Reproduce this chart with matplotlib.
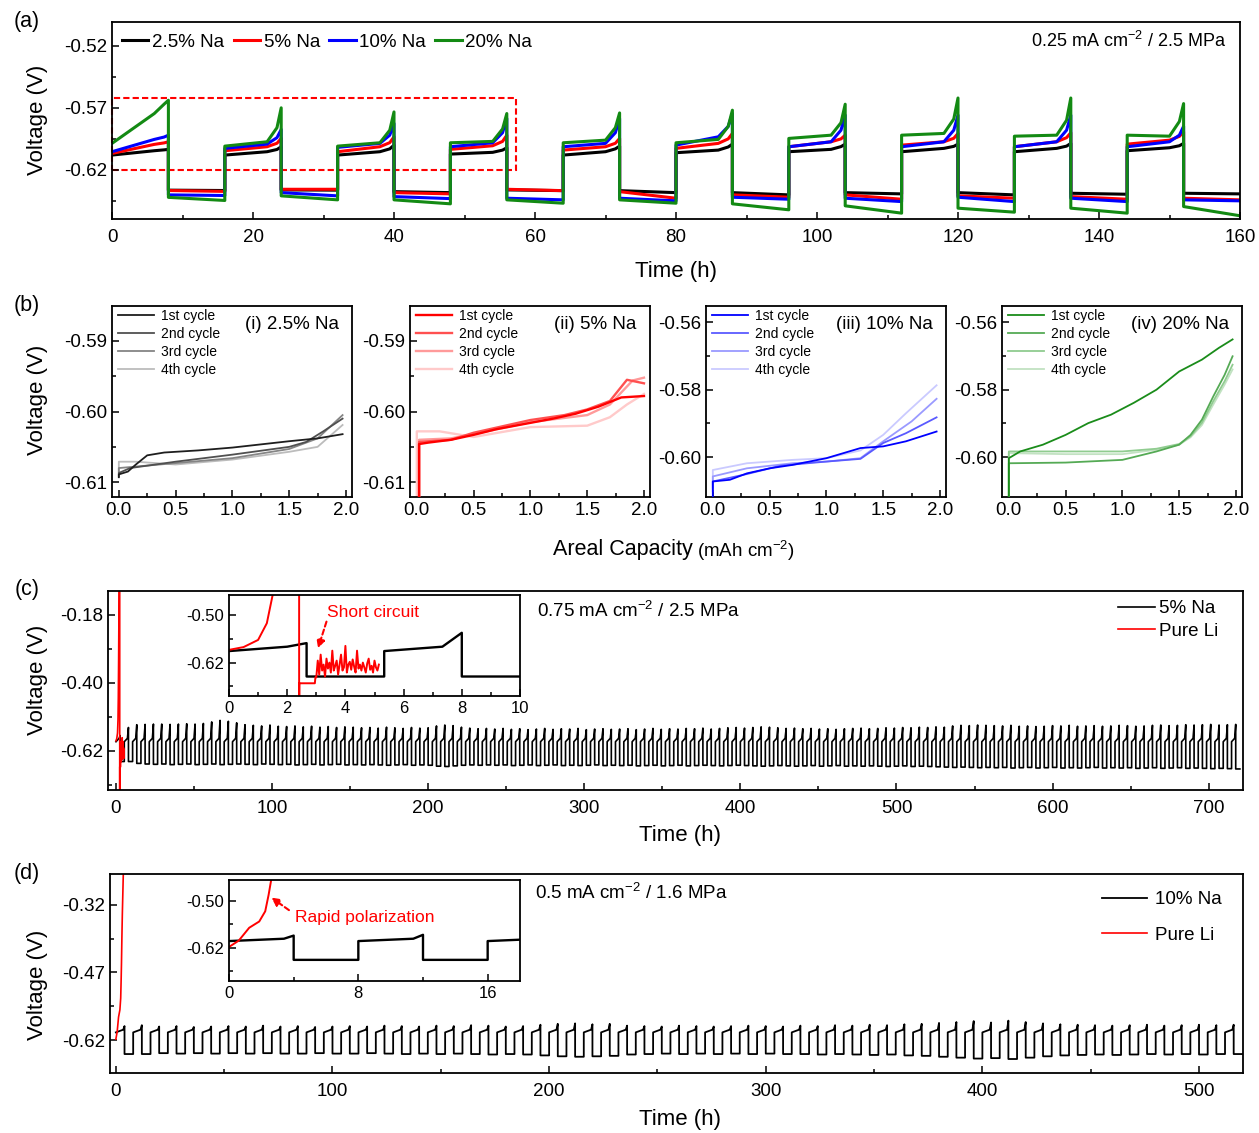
import numpy as np
import matplotlib
matplotlib.use('Agg')
import matplotlib.pyplot as plt
from matplotlib.ticker import MultipleLocator, FixedLocator, FormatStrFormatter
from matplotlib.patches import Rectangle

plt.rcParams['font.family'] = ['Liberation Sans', 'DejaVu Sans']
plt.rcParams['mathtext.default'] = 'regular'
plt.rcParams['axes.unicode_minus'] = False

# ---------------- panel (a): 0.25 mA cm-2, 8 h half cycles ----------------
# upper half cycle: [start, at 6 h, at 7.4 h, end] ; lower half cycle: [start, end]
a_labels = ['2.5% Na', '5% Na', '10% Na', '20% Na']
a_colors = ['black', '#ff0000', '#0000ff', '#138a13']

black_up = [[-0.6080, -0.6045, -0.6038, -0.6034], [-0.6080, -0.6053, -0.6035, -0.6013],
            [-0.6080, -0.6053, -0.6030, -0.6000], [-0.6072, -0.6058, -0.6040, -0.6021],
            [-0.6080, -0.6053, -0.6030, -0.6008], [-0.6061, -0.6040, -0.6015, -0.5992],
            [-0.6053, -0.6034, -0.6012, -0.5992], [-0.6053, -0.6026, -0.6010, -0.5992],
            [-0.6053, -0.6026, -0.6008, -0.5986], [-0.6045, -0.6021, -0.6005, -0.5986]]
red_up = [[-0.6067, -0.5994, -0.5982, -0.5973], [-0.6045, -0.6013, -0.5985, -0.5946],
          [-0.6053, -0.6013, -0.5980, -0.5933], [-0.6034, -0.6005, -0.5970, -0.5920],
          [-0.6040, -0.6013, -0.5985, -0.5946], [-0.6026, -0.5986, -0.5950, -0.5906],
          [-0.6013, -0.5973, -0.5950, -0.5920], [-0.6000, -0.5973, -0.5945, -0.5906],
          [-0.6013, -0.5973, -0.5940, -0.5900], [-0.5992, -0.5960, -0.5930, -0.5893]]
blue_up = [[-0.6053, -0.5954, -0.5935, -0.5920], [-0.6026, -0.5992, -0.5940, -0.5874],
           [-0.6018, -0.5986, -0.5920, -0.5826], [-0.6013, -0.5981, -0.5900, -0.5786],
           [-0.6013, -0.5986, -0.5900, -0.5786], [-0.6000, -0.5933, -0.5850, -0.5746],
           [-0.6013, -0.5973, -0.5880, -0.5759], [-0.6013, -0.5973, -0.5880, -0.5759],
           [-0.6013, -0.5973, -0.5880, -0.5759], [-0.6013, -0.5973, -0.5920, -0.5848]]
green_up = [[-0.5986, -0.5746, -0.5670, -0.5639], [-0.6008, -0.5973, -0.5860, -0.5700],
            [-0.6008, -0.5981, -0.5880, -0.5733], [-0.5981, -0.5970, -0.5870, -0.5746],
            [-0.5981, -0.5960, -0.5860, -0.5741], [-0.5981, -0.5954, -0.5850, -0.5719],
            [-0.5946, -0.5920, -0.5820, -0.5671], [-0.5920, -0.5906, -0.5790, -0.5621],
            [-0.5928, -0.5920, -0.5800, -0.5621], [-0.5920, -0.5928, -0.5810, -0.5666]]

black_low = [[-0.6362, -0.6365], [-0.6360, -0.6362], [-0.6374, -0.6382], [-0.6360, -0.6366],
             [-0.6366, -0.6382], [-0.6382, -0.6400], [-0.6382, -0.6392], [-0.6382, -0.6400],
             [-0.6387, -0.6395], [-0.6387, -0.6392]]
red_low = [[-0.6365, -0.6372], [-0.6355, -0.6355], [-0.6382, -0.6392], [-0.6355, -0.6366],
           [-0.6374, -0.6427], [-0.6400, -0.6419], [-0.6400, -0.6435], [-0.6408, -0.6427],
           [-0.6414, -0.6435], [-0.6427, -0.6440]]
blue_low = [[-0.6400, -0.6405], [-0.6382, -0.6408], [-0.6414, -0.6430], [-0.6427, -0.6440],
            [-0.6427, -0.6448], [-0.6419, -0.6435], [-0.6427, -0.6454], [-0.6419, -0.6454],
            [-0.6427, -0.6454], [-0.6440, -0.6448]]
green_low = [[-0.6420, -0.6445], [-0.6408, -0.6440], [-0.6440, -0.6472], [-0.6440, -0.6467],
             [-0.6440, -0.6467], [-0.6472, -0.6520], [-0.6488, -0.6547], [-0.6507, -0.6539],
             [-0.6507, -0.6547], [-0.6494, -0.6568]]

# ---------------- panel (b): voltage vs areal capacity ----------------
b_titles = ['(i) 2.5% Na', '(ii) 5% Na', '(iii) 10% Na', '(iv) 20% Na']
b_cycles = ['1st cycle', '2nd cycle', '3rd cycle', '4th cycle']
b_colors = [['#1e1e1e', '#505050', '#858585', '#bcbcbc'],
            ['#ff0000', '#ff5050', '#ff9a9a', '#ffcaca'],
            ['#0000ff', '#5a5aff', '#9a9aff', '#cacaff'],
            ['#1a8c1a', '#55aa55', '#90cc90', '#c2e2c2']]

b_i = [([0, 0, 0.08, 0.15, 0.25, 0.4, 0.7, 1.0, 1.5, 1.75, 1.97],
        [-0.6093, -0.6089, -0.6085, -0.6075, -0.6062, -0.6058, -0.6055, -0.6051, -0.6042, -0.6038, -0.6032]),
       ([0, 0, 0.1, 0.5, 1.0, 1.5, 1.65, 1.8, 1.97],
        [-0.6092, -0.6087, -0.6080, -0.6071, -0.6061, -0.6050, -0.6043, -0.6028, -0.6010]),
       ([0, 0, 0.5, 1.0, 1.5, 1.75, 1.97],
        [-0.6085, -0.6080, -0.6073, -0.6066, -0.6053, -0.6038, -0.6005]),
       ([0, 0, 0.15, 0.5, 1.0, 1.5, 1.75, 1.97],
        [-0.6088, -0.6071, -0.6071, -0.6075, -0.6068, -0.6057, -0.6050, -0.6019])]
b_ii = [([0.02, 0.02, 0.1, 0.3, 0.5, 0.7, 1.0, 1.2, 1.4, 1.6, 1.8, 2.0],
         [-0.6125, -0.6046, -0.6044, -0.6040, -0.6033, -0.6025, -0.6016, -0.6010, -0.6003, -0.5993, -0.5980, -0.5978]),
        ([0.02, 0.02, 0.3, 0.5, 1.0, 1.3, 1.5, 1.7, 1.85, 2.0],
         [-0.6125, -0.6043, -0.6040, -0.6030, -0.6012, -0.6005, -0.5997, -0.5985, -0.5955, -0.5960]),
        ([0.02, 0.02, 0.3, 0.5, 1.0, 1.5, 1.7, 1.9, 2.0],
         [-0.6125, -0.6040, -0.6038, -0.6032, -0.6015, -0.6005, -0.5990, -0.5956, -0.5952]),
        ([0.0, 0.0, 0.2, 0.5, 1.0, 1.5, 1.7, 1.85, 2.0],
         [-0.6125, -0.6028, -0.6028, -0.6036, -0.6022, -0.6020, -0.6008, -0.5990, -0.5975])]
b_iii = [([0.0, 0.0, 0.15, 0.3, 0.5, 0.7, 1.0, 1.3, 1.5, 1.7, 1.97],
          [-0.6120, -0.6072, -0.6067, -0.6048, -0.6033, -0.6023, -0.6003, -0.5973, -0.5968, -0.5953, -0.5924]),
         ([0.0, 0.0, 0.3, 0.6, 1.0, 1.3, 1.5, 1.7, 1.97],
          [-0.6100, -0.6072, -0.6050, -0.6025, -0.6013, -0.6005, -0.5958, -0.5929, -0.5882]),
         ([0.0, 0.0, 0.3, 0.7, 1.0, 1.3, 1.5, 1.75, 1.97],
          [-0.6090, -0.6057, -0.6033, -0.6018, -0.6013, -0.6003, -0.5953, -0.5894, -0.5827]),
         ([0.0, 0.0, 0.3, 0.7, 1.0, 1.3, 1.5, 1.7, 1.97],
          [-0.6080, -0.6038, -0.6018, -0.6008, -0.6003, -0.5980, -0.5934, -0.5870, -0.5787])]
iv_x = [0.0, 0.0, 0.5, 1.0, 1.3, 1.5, 1.6, 1.7, 1.8, 1.9, 1.97]
b_iv = [([0.0, 0.0, 0.1, 0.3, 0.5, 0.7, 0.9, 1.1, 1.3, 1.5, 1.7, 1.85, 1.97],
         [-0.6125, -0.6003, -0.5983, -0.5963, -0.5934, -0.5899, -0.5874, -0.5839, -0.5800, -0.5746, -0.5711, -0.5676, -0.5651]),
        (iv_x, [-0.6125, -0.6018, -0.6016, -0.6008, -0.5983, -0.5963, -0.5934, -0.5889, -0.5820, -0.5756, -0.5701]),
        (iv_x, [-0.6125, -0.5983, -0.5983, -0.5983, -0.5975, -0.5961, -0.5938, -0.5898, -0.5834, -0.5775, -0.5726]),
        (iv_x, [-0.6125, -0.5988, -0.5991, -0.5991, -0.5978, -0.5963, -0.5941, -0.5905, -0.5844, -0.5785, -0.5740])]
b_data = [b_i, b_ii, b_iii, b_iv]

# ---------------- panel (c): 0.75 mA cm-2, 5% Na vs pure Li ----------------
c_half = 2.0 / 0.75          # 2 mAh cm-2 per half cycle
c_start, c_knee = -0.591, -0.580
c_peak = [
    -0.571, -0.545, -0.536, -0.535, -0.534, -0.534, -0.535, -0.534, -0.533, -0.534, -0.532, -0.527, -0.522, -0.525, -0.530,
    -0.536, -0.538, -0.540, -0.537, -0.541, -0.542, -0.540, -0.543, -0.541, -0.544, -0.542, -0.545, -0.543, -0.544, -0.546,
    -0.545, -0.547, -0.544, -0.546, -0.548, -0.545, -0.547, -0.546, -0.540, -0.537, -0.539, -0.544, -0.547, -0.549, -0.548,
    -0.550, -0.548, -0.551, -0.549, -0.552, -0.550, -0.548, -0.551, -0.549, -0.550, -0.548, -0.552, -0.550, -0.549, -0.551,
    -0.550, -0.549, -0.552, -0.550, -0.548, -0.551, -0.549, -0.550, -0.548, -0.549, -0.547, -0.550, -0.548, -0.546, -0.545,
    -0.547, -0.545, -0.543, -0.544, -0.546, -0.548, -0.547, -0.549, -0.548, -0.550, -0.549, -0.551, -0.549, -0.548, -0.547,
    -0.549, -0.548, -0.546, -0.547, -0.545, -0.546, -0.544, -0.545, -0.543, -0.544, -0.540, -0.538, -0.539, -0.537, -0.538,
    -0.539, -0.540, -0.538, -0.541, -0.540, -0.542, -0.541, -0.539, -0.540, -0.538, -0.541, -0.540, -0.539, -0.541, -0.540,
    -0.538, -0.539, -0.541, -0.540, -0.538, -0.537, -0.539, -0.538, -0.536, -0.537, -0.536, -0.535, -0.537, -0.536, -0.535]
c_low = [
    -0.655, -0.655, -0.661, -0.663, -0.664, -0.663, -0.665, -0.664, -0.663, -0.665, -0.664, -0.663, -0.665, -0.664, -0.663,
    -0.664, -0.665, -0.663, -0.664, -0.665, -0.664, -0.666, -0.665, -0.664, -0.666, -0.665, -0.664, -0.666, -0.665, -0.666,
    -0.665, -0.666, -0.667, -0.666, -0.665, -0.667, -0.666, -0.667, -0.670, -0.671, -0.669, -0.667, -0.666, -0.667, -0.666,
    -0.667, -0.666, -0.668, -0.667, -0.666, -0.668, -0.667, -0.666, -0.668, -0.667, -0.668, -0.667, -0.666, -0.668, -0.667,
    -0.668, -0.667, -0.669, -0.668, -0.667, -0.669, -0.668, -0.667, -0.669, -0.668, -0.667, -0.668, -0.669, -0.668, -0.667,
    -0.668, -0.669, -0.670, -0.669, -0.668, -0.669, -0.670, -0.669, -0.668, -0.670, -0.669, -0.668, -0.670, -0.669, -0.670,
    -0.669, -0.670, -0.671, -0.670, -0.669, -0.671, -0.670, -0.671, -0.672, -0.673, -0.674, -0.673, -0.674, -0.675, -0.674,
    -0.675, -0.674, -0.676, -0.675, -0.674, -0.676, -0.675, -0.674, -0.676, -0.675, -0.676, -0.675, -0.674, -0.676, -0.675,
    -0.676, -0.675, -0.677, -0.676, -0.675, -0.677, -0.676, -0.675, -0.677, -0.676, -0.677, -0.678, -0.677, -0.678, -0.679]
c_li_t = [0.0, 0.5, 1.0, 1.3, 1.5, 1.7, 1.9, 2.0, 2.41, 2.41, 2.42, 2.95, 2.97]
c_li_v = [-0.588, -0.581, -0.563, -0.521, -0.450, -0.330, -0.180, -0.050, -0.050, -0.800, -0.672, -0.672, -0.657]
c_li_noise = [-0.657, -0.615, -0.650, -0.600, -0.640, -0.625, -0.655, -0.610, -0.635, -0.620, -0.645,
              -0.590, -0.640, -0.628, -0.615, -0.650, -0.625, -0.600, -0.640, -0.632, -0.578, -0.645,
              -0.625, -0.618, -0.638, -0.612, -0.630, -0.645, -0.590, -0.635, -0.625, -0.640, -0.620,
              -0.632, -0.645, -0.622, -0.610, -0.638, -0.628, -0.645, -0.615, -0.632, -0.640, -0.625]

# ---------------- panel (d): 0.5 mA cm-2, 10% Na vs pure Li ----------------
d_half = 2.0 / 0.5
d_start, d_knee = -0.603, -0.597
d_peak = [
    -0.589, -0.587, -0.590, -0.589, -0.591, -0.590, -0.589, -0.590, -0.588, -0.590, -0.589, -0.591, -0.590,
    -0.589, -0.590, -0.588, -0.589, -0.590, -0.588, -0.589, -0.587, -0.588, -0.590, -0.589, -0.586, -0.584,
    -0.583, -0.585, -0.584, -0.588, -0.589, -0.590, -0.588, -0.589, -0.590, -0.589, -0.588, -0.589, -0.590,
    -0.588, -0.589, -0.587, -0.588, -0.586, -0.587, -0.585, -0.584, -0.582, -0.580, -0.578, -0.581, -0.577,
    -0.580, -0.583, -0.585, -0.586, -0.587, -0.588, -0.587, -0.586, -0.588, -0.587, -0.586, -0.587, -0.586]
d_low = [
    -0.651, -0.651, -0.649, -0.650, -0.649, -0.650, -0.649, -0.650, -0.649, -0.650, -0.650, -0.649, -0.650,
    -0.650, -0.649, -0.650, -0.651, -0.650, -0.651, -0.650, -0.651, -0.652, -0.651, -0.652, -0.654, -0.656,
    -0.657, -0.656, -0.655, -0.652, -0.651, -0.650, -0.651, -0.650, -0.651, -0.650, -0.651, -0.650, -0.651,
    -0.651, -0.652, -0.651, -0.652, -0.653, -0.652, -0.654, -0.655, -0.657, -0.659, -0.661, -0.660, -0.662,
    -0.659, -0.656, -0.654, -0.653, -0.652, -0.653, -0.652, -0.651, -0.652, -0.651, -0.652, -0.651, -0.651]
d_li_t = [0.0, 0.6, 1.25, 1.87, 2.24, 2.45, 2.6, 2.8, 3.0, 3.5]
d_li_v = [-0.618, -0.602, -0.569, -0.553, -0.527, -0.485, -0.449, -0.390, -0.340, -0.240]


W, H = 1259, 1133
fig = plt.figure(figsize=(W / 100, H / 100), dpi=100)


def box(l, t, r, b):
    return [l / W, 1 - b / H, (r - l) / W, (b - t) / H]


def style(ax, size=13.5):
    ax.tick_params(which='both', direction='in', top=False, right=False,
                   labelsize=size, width=1.1)
    ax.tick_params(which='major', length=5)
    ax.tick_params(which='minor', length=3)
    for s in ax.spines.values():
        s.set_linewidth(1.3)


def cycles(half, start, knee, peaks, lows, frac):
    t, v = [], []
    for k in range(len(peaks)):
        t0 = 2 * half * k
        t += [t0, t0 + frac * half, t0 + half, t0 + half, t0 + 2 * half]
        v += [start, knee, peaks[k], lows[k], lows[k]]
    return t, v


def ftext(x, y, s, **kw):
    fig.text(x / W, 1 - y / H, s, **kw)


# ---- (a)
ax = fig.add_axes(box(112, 22, 1240, 219))
for lab, col, up, low in zip(a_labels, a_colors,
                             [black_up, red_up, blue_up, green_up],
                             [black_low, red_low, blue_low, green_low]):
    t, v = [], []
    for k in range(len(up)):
        t0 = 16 * k
        t += [t0, t0 + 6, t0 + 7.4, t0 + 8, t0 + 8, t0 + 16]
        v += up[k] + low[k]
    ax.plot(t, v, color=col, lw=2.2, label=lab)
ax.add_patch(Rectangle((0, -0.62), 57.3, 0.0575, fill=False, ec='red',
                       ls=(0, (3, 1.5)), lw=1.5, clip_on=False))
ax.set_xlim(0, 160)
ax.set_ylim(-0.6594, -0.501)
ax.xaxis.set_major_locator(MultipleLocator(20))
ax.xaxis.set_minor_locator(MultipleLocator(10))
ax.yaxis.set_major_locator(FixedLocator([-0.62, -0.57, -0.52]))
ax.yaxis.set_minor_locator(FixedLocator([-0.645, -0.595, -0.545]))
ax.yaxis.set_major_formatter(FormatStrFormatter('%.2f'))
style(ax)
ax.tick_params(axis='x', pad=7)
ax.legend(loc='center left', bbox_to_anchor=(122 / W, 1 - 42 / H), bbox_transform=fig.transFigure,
          ncol=4, frameon=False, fontsize=13.5, handlelength=1.4, handletextpad=0.2,
          columnspacing=0.5, borderpad=0, borderaxespad=0)
ftext(1226, 41, '0.25 mA cm$^{-2}$ / 2.5 MPa', ha='right', va='center', fontsize=13)

# ---- (b)
b_left = [112, 410, 706, 1002]
b_ylim = [(-0.6121, -0.58505), (-0.6121, -0.58505), (-0.6118, -0.5552), (-0.6118, -0.5552)]
b_major = [[-0.61, -0.60, -0.59], [-0.61, -0.60, -0.59], [-0.60, -0.58, -0.56], [-0.60, -0.58, -0.56]]
b_minor = [[-0.605, -0.595], [-0.605, -0.595], [-0.59, -0.57], [-0.59, -0.57]]
for j in range(4):
    ax = fig.add_axes(box(b_left[j], 306, b_left[j] + 240, 497))
    for n in range(4):
        x, y = b_data[j][n]
        ax.plot(x, y, color=b_colors[j][n], lw=1.7 if j == 1 else 1.3, label=b_cycles[n],
                zorder=5 - n)
    ax.set_xlim(-0.06, 2.053)
    ax.set_ylim(*b_ylim[j])
    ax.xaxis.set_major_locator(MultipleLocator(0.5))
    ax.xaxis.set_minor_locator(MultipleLocator(0.25))
    ax.xaxis.set_major_formatter(FormatStrFormatter('%.1f'))
    ax.yaxis.set_major_locator(FixedLocator(b_major[j]))
    ax.yaxis.set_minor_locator(FixedLocator(b_minor[j]))
    ax.yaxis.set_major_formatter(FormatStrFormatter('%.2f'))
    style(ax)
    leg = ax.legend(loc='upper left', bbox_to_anchor=(0.025, 0.985), frameon=False, fontsize=10,
                    handlelength=2.6, handletextpad=0.5, labelspacing=0.28, borderpad=0,
                    borderaxespad=0)
    ax.text(0.945, 0.905, b_titles[j], transform=ax.transAxes, ha='right', va='center',
            fontsize=13.5)
ftext(693, 550, 'Areal Capacity', ha='right', va='center', fontsize=15.5)
ftext(697, 551, '(mAh cm$^{-2}$)', ha='left', va='center', fontsize=13.5)

# ---- (c)
ct, cv = cycles(c_half, c_start, c_knee, c_peak, c_low, 0.75)
li_t = c_li_t + list(np.linspace(3.0, 5.15, len(c_li_noise)))
li_v = c_li_v + c_li_noise
ax = fig.add_axes(box(108, 591, 1243, 790))
ax.plot(ct, cv, color='black', lw=1.2, label='5% Na')
ax.plot(li_t, li_v, color='red', lw=1.2, label='Pure Li')
ax.set_xlim(-5.1, 722)
ax.set_ylim(-0.747, -0.104)
ax.xaxis.set_major_locator(MultipleLocator(100))
ax.xaxis.set_minor_locator(MultipleLocator(50))
ax.yaxis.set_major_locator(FixedLocator([-0.62, -0.40, -0.18]))
ax.yaxis.set_minor_locator(FixedLocator([-0.73, -0.51, -0.29]))
ax.yaxis.set_major_formatter(FormatStrFormatter('%.2f'))
style(ax)
ax.tick_params(axis='x', pad=7)
ax.legend(loc='upper right', bbox_to_anchor=(1218 / W, 1 - 600 / H), bbox_transform=fig.transFigure,
          frameon=False, fontsize=13.5, handlelength=2.0, handletextpad=0.2, labelspacing=0.3,
          borderpad=0, borderaxespad=0)
ftext(537, 611, '0.75 mA cm$^{-2}$ / 2.5 MPa', ha='left', va='center', fontsize=13.5)

ins = fig.add_axes(box(229, 595, 520, 696))
ins.plot(ct, cv, color='black', lw=1.7)
ins.plot(li_t, li_v, color='red', lw=1.4)
ins.set_xlim(0, 10)
ins.set_ylim(-0.704, -0.45)
ins.xaxis.set_major_locator(MultipleLocator(2))
ins.xaxis.set_minor_locator(MultipleLocator(1))
ins.yaxis.set_major_locator(FixedLocator([-0.62, -0.50]))
ins.yaxis.set_minor_locator(FixedLocator([-0.68, -0.56]))
ins.yaxis.set_major_formatter(FormatStrFormatter('%.2f'))
style(ins, 12)
ins.text(3.36, -0.495, 'Short circuit', color='red', fontsize=12.5, ha='left', va='center')
ins.annotate('', xy=(3.06, -0.584), xytext=(3.35, -0.517),
             arrowprops=dict(arrowstyle='-|>', color='red', lw=1.5, ls=(0, (2.5, 1.5)),
                             mutation_scale=12, shrinkA=0, shrinkB=0))

# ---- (d)
dt, dv = cycles(d_half, d_start, d_knee, d_peak, d_low, 0.85)
ax = fig.add_axes(box(110, 874, 1243, 1073))
ax.plot(dt, dv, color='black', lw=1.3, label='10% Na')
ax.plot(d_li_t, d_li_v, color='red', lw=1.2, label='Pure Li')
ax.set_xlim(-2.7, 520.3)
ax.set_ylim(-0.693, -0.252)
ax.xaxis.set_major_locator(MultipleLocator(100))
ax.xaxis.set_minor_locator(MultipleLocator(50))
ax.yaxis.set_major_locator(FixedLocator([-0.62, -0.47, -0.32]))
ax.yaxis.set_minor_locator(FixedLocator([-0.545, -0.395]))
ax.yaxis.set_major_formatter(FormatStrFormatter('%.2f'))
style(ax)
ax.tick_params(axis='x', pad=7)
ax.legend(loc='upper right', bbox_to_anchor=(1222 / W, 1 - 891 / H), bbox_transform=fig.transFigure,
          frameon=False, fontsize=13.5, handlelength=2.4, handletextpad=0.45, labelspacing=1.0,
          borderpad=0, borderaxespad=0)
ftext(535, 893, '0.5 mA cm$^{-2}$ / 1.6 MPa', ha='left', va='center', fontsize=13.5)

ins = fig.add_axes(box(229, 880, 520, 981))
ins.plot(dt, dv, color='black', lw=1.7)
ins.plot(d_li_t, d_li_v, color='red', lw=1.4)
ins.set_xlim(0, 18)
ins.set_ylim(-0.705, -0.447)
ins.xaxis.set_major_locator(MultipleLocator(8))
ins.xaxis.set_minor_locator(MultipleLocator(4))
ins.yaxis.set_major_locator(FixedLocator([-0.62, -0.50]))
ins.yaxis.set_minor_locator(FixedLocator([-0.68, -0.56]))
ins.yaxis.set_major_formatter(FormatStrFormatter('%.2f'))
style(ins, 12)
ins.text(4.06, -0.543, 'Rapid polarization', color='red', fontsize=12.5, ha='left', va='center')
ins.annotate('', xy=(2.62, -0.492), xytext=(3.71, -0.524),
             arrowprops=dict(arrowstyle='-|>', color='red', lw=1.5, ls=(0, (2.5, 1.5)),
                             mutation_scale=12, shrinkA=0, shrinkB=0))

# ---- shared labels
for y in [120, 400, 680, 985]:
    ftext(38, y, 'Voltage (V)', rotation=90, ha='center', va='center', fontsize=16)
ftext(676, 272, 'Time (h)', ha='center', va='center', fontsize=16)
ftext(680, 835, 'Time (h)', ha='center', va='center', fontsize=16)
ftext(680, 1120, 'Time (h)', ha='center', va='center', fontsize=16)
for lab, y in zip(['(a)', '(b)', '(c)', '(d)'], [22, 305, 590, 873]):
    ftext(27, y, lab, ha='center', va='center', fontsize=15.5)

fig.savefig('out.png', dpi=100)
